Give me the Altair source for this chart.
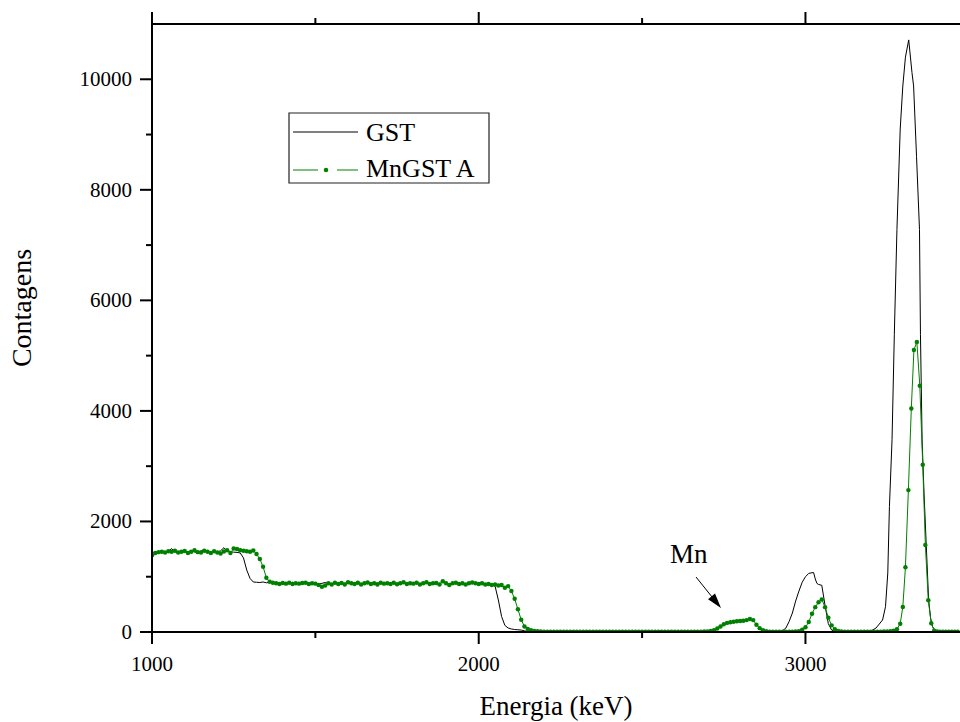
import altair as alt
import pandas as pd

# ---------------- data ----------------
energia_gst = [
    1000, 1010, 1020, 1030, 1040, 1050, 1060, 1070, 1080, 1090,
    1100, 1110, 1120, 1130, 1140, 1150, 1160, 1170, 1180, 1190,
    1200, 1210, 1220, 1230, 1240, 1250, 1260, 1270, 1280, 1290,
    1300, 1310, 1320, 1330, 1340, 1350, 1360, 1370, 1380, 1390,
    1400, 1410, 1420, 1430, 1440, 1450, 1460, 1470, 1480, 1490,
    1500, 1510, 1520, 1530, 1540, 1550, 1560, 1570, 1580, 1590,
    1600, 1610, 1620, 1630, 1640, 1650, 1660, 1670, 1680, 1690,
    1700, 1710, 1720, 1730, 1740, 1750, 1760, 1770, 1780, 1790,
    1800, 1810, 1820, 1830, 1840, 1850, 1860, 1870, 1880, 1890,
    1900, 1910, 1920, 1930, 1940, 1950, 1960, 1970, 1980, 1990,
    2000, 2010, 2020, 2030, 2040, 2050, 2060, 2070, 2080, 2090,
    2100, 2110, 2120, 2130, 2140, 2150, 2160, 2170, 2180, 2190,
    2200, 2300, 2400, 2500, 2600, 2700, 2800,
    2900, 2910, 2920, 2930, 2940, 2950, 2960, 2970, 2980, 2990,
    3000, 3010, 3020, 3025, 3030, 3035, 3040, 3050, 3060, 3070, 3080, 3090,
    3100, 3110, 3120, 3130, 3140, 3150, 3160, 3170, 3180, 3190,
    3200, 3216, 3236, 3245, 3252, 3257, 3265, 3272, 3280, 3290,
    3298, 3306, 3316, 3326, 3331, 3340, 3349, 3352, 3357, 3363,
    3369, 3377, 3383, 3389, 3400, 3420, 3440, 3460, 3470,
]
contagens_gst = [
    1420, 1440, 1450, 1445, 1455, 1460, 1510, 1450, 1455, 1440,
    1460, 1445, 1470, 1450, 1440, 1465, 1485, 1450, 1440, 1455,
    1450, 1470, 1525, 1460, 1450, 1445, 1440, 1430, 1340, 1120,
    970, 905, 900, 895, 905, 890, 900, 885, 895, 890,
    880, 895, 885, 900, 875, 890, 880, 895, 870, 885,
    890, 870, 880, 895, 880, 870, 890, 875, 885, 880,
    895, 880, 875, 890, 870, 885, 900, 880, 875, 890,
    880, 885, 870, 890, 880, 875, 895, 880, 870, 885,
    890, 880, 870, 885, 900, 875, 880, 890, 870, 905,
    880, 870, 885, 890, 875, 880, 870, 885, 895, 880,
    875, 885, 870, 880, 860, 830, 580, 280, 120, 72,
    55, 45, 40, 35, 22, 9, 4, 2, 2, 2,
    2, 2, 2, 2, 2, 2, 2,
    2, 4, 10, 25, 70, 190, 344, 560, 740, 900,
    1000, 1060, 1072, 1075, 960, 880, 860, 845, 480, 150, 36, 10,
    4, 3, 3, 3, 3, 3, 4, 5, 8, 12,
    18, 72, 217, 458, 1069, 2270, 3478, 5380, 7283, 9100,
    9879, 10400, 10712, 10121, 9879, 8600, 7283, 5380, 3478, 2500,
    1667, 580, 250, 96, 5, 2, 2, 2, 2,
]

energia_mn = [
    1000, 1010, 1020, 1030, 1040, 1050, 1060, 1070, 1080, 1090,
    1100, 1110, 1120, 1130, 1140, 1150, 1160, 1170, 1180, 1190,
    1200, 1210, 1220, 1230, 1240, 1250, 1260, 1270, 1280, 1290,
    1300, 1310, 1320, 1330, 1340, 1350, 1360, 1370, 1380, 1390,
    1400, 1410, 1420, 1430, 1440, 1450, 1460, 1470, 1480, 1490,
    1500, 1510, 1520, 1530, 1540, 1550, 1560, 1570, 1580, 1590,
    1600, 1610, 1620, 1630, 1640, 1650, 1660, 1670, 1680, 1690,
    1700, 1710, 1720, 1730, 1740, 1750, 1760, 1770, 1780, 1790,
    1800, 1810, 1820, 1830, 1840, 1850, 1860, 1870, 1880, 1890,
    1900, 1910, 1920, 1930, 1940, 1950, 1960, 1970, 1980, 1990,
    2000, 2010, 2020, 2030, 2040, 2050, 2060, 2070, 2080, 2090,
    2100, 2110, 2120, 2130, 2140, 2150, 2160, 2170, 2180, 2190,
    2200, 2210, 2220, 2230, 2240, 2250, 2260, 2270, 2280, 2290,
    2300, 2310, 2320, 2330, 2340, 2350, 2360, 2370, 2380, 2390,
    2400, 2410, 2420, 2430, 2440, 2450, 2460, 2470, 2480, 2490,
    2500, 2510, 2520, 2530, 2540, 2550, 2560, 2570, 2580, 2590,
    2600, 2610, 2620, 2630, 2640, 2650, 2660, 2670, 2680, 2690,
    2700, 2710, 2720, 2730, 2740, 2750, 2760, 2770, 2780, 2790,
    2800, 2810, 2820, 2830, 2840, 2850, 2860, 2870, 2880, 2890,
    2900, 2910, 2920, 2930, 2940, 2950, 2960, 2970, 2980, 2990,
    3000, 3010, 3020, 3030, 3040, 3050, 3060, 3070, 3080, 3090,
    3100, 3110, 3120, 3130, 3140, 3150, 3160, 3170, 3180, 3190,
    3200, 3210, 3220, 3230, 3240, 3250, 3260, 3270,
    3280, 3290, 3298, 3306, 3315, 3324, 3332, 3341, 3350, 3359,
    3367, 3376, 3385, 3394, 3403, 3412, 3421, 3430, 3439, 3448, 3457, 3466,
]
contagens_mn = [
    1390, 1430, 1445, 1450, 1440, 1460, 1450, 1470, 1440, 1450,
    1465, 1430, 1450, 1480, 1445, 1440, 1470, 1450, 1430, 1460,
    1440, 1420, 1455, 1480, 1430, 1510, 1500, 1480, 1470, 1460,
    1450, 1475, 1410, 1320, 1180, 980, 910, 890, 880, 870,
    885, 875, 890, 870, 880, 875, 885, 890, 870, 880,
    875, 850, 820, 840, 880, 860, 890, 870, 885, 860,
    900, 880, 870, 890, 860, 880, 895, 870, 880, 860,
    890, 875, 880, 870, 890, 865, 880, 900, 870, 880,
    875, 890, 860, 880, 900, 870, 880, 885, 860, 920,
    880, 850, 880, 890, 870, 880, 860, 880, 895, 880,
    870, 880, 860, 870, 850, 860, 840, 850, 800, 830,
    740, 600, 410, 220, 100, 55, 30, 20, 12, 8,
    6, 5, 5, 4, 5, 4, 4, 5, 4, 4,
    4, 5, 4, 4, 3, 4, 5, 4, 4, 3,
    4, 4, 5, 4, 3, 4, 4, 5, 4, 4,
    3, 4, 4, 5, 4, 4, 3, 4, 5, 4,
    4, 5, 4, 4, 5, 4, 6, 5, 6, 8,
    10, 18, 30, 65, 100, 140, 165, 175, 185, 195,
    200, 205, 215, 235, 215, 130, 70, 30, 12, 6,
    5, 4, 4, 5, 4, 5, 6, 8, 15, 40,
    85, 180, 330, 450, 540, 590, 450, 260, 120, 50,
    20, 10, 6, 5, 4, 4, 4, 5, 4, 4,
    4, 5, 5, 6, 8, 10, 15, 22,
    49, 150, 453, 1172, 2567, 4045, 5103, 5248, 4457, 3025,
    1576, 574, 157, 24, 8, 5, 4, 4, 4, 4, 4, 4,
]

x_major = [1000, 2000, 3000]
x_minor = [1500, 2500]
y_major = [0, 2000, 4000, 6000, 8000, 10000]
y_minor = [1000, 3000, 5000, 7000, 9000]
x_title = "Energia (keV)"
y_title = "Contagens"
legend_labels = ["GST", "MnGST A"]
annot_label = "Mn"
annot_text_pos = {"x": [2643], "y": [1248]}
annot_arrow = {"x0": [2665], "y0": [995], "x1": [2727], "y1": [539]}

# ---------------- layout ----------------
W, H = 808, 608
FONT = "Liberation Serif"
GREEN = "#008000"

xscale = alt.Scale(domain=[1000, 3473], nice=False, zero=False)
yscale = alt.Scale(domain=[0, 11000], nice=False, zero=False)

df_gst = pd.DataFrame({"E": energia_gst, "C": contagens_gst})
df_mn = pd.DataFrame({"E": energia_mn, "C": contagens_mn})
one = pd.DataFrame({"d": [0]})
df_xmajor = pd.DataFrame({"v": x_major, "lab": [str(v) for v in x_major]})
df_xminor = pd.DataFrame({"v": x_minor})
df_ymajor = pd.DataFrame({"v": y_major, "lab": [str(v) for v in y_major]})
df_yminor = pd.DataFrame({"v": y_minor})

X = lambda f: alt.X(f, scale=xscale, axis=None)
Y = lambda f: alt.Y(f, scale=yscale, axis=None)

# ---------------- data marks ----------------
gst_line = alt.Chart(df_gst).mark_line(color="black", strokeWidth=1, clip=True).encode(
    x=X("E:Q"), y=Y("C:Q")
)
mn_line = alt.Chart(df_mn).mark_line(color=GREEN, strokeWidth=1, clip=True).encode(
    x=X("E:Q"), y=Y("C:Q")
)
mn_pts = alt.Chart(df_mn).mark_circle(color=GREEN, size=20, opacity=1, clip=True).encode(
    x=X("E:Q"), y=Y("C:Q")
)

# ---------------- axes (frame lines, ticks, labels, titles) ----------------
def rule(data, **enc):
    return alt.Chart(data).mark_rule(color="black", strokeWidth=2).encode(**enc)

left_line = rule(one, x=alt.value(0), y=alt.value(0), y2=alt.value(H))
bottom_line = rule(one, x=alt.value(0), x2=alt.value(W), y=alt.value(H))
top_line = rule(one, x=alt.value(0), x2=alt.value(W), y=alt.value(0))
major_bottom = rule(df_xmajor, x=X("v:Q"), y=alt.value(H), y2=alt.value(H + 12))
minor_bottom = rule(df_xminor, x=X("v:Q"), y=alt.value(H), y2=alt.value(H + 6))
major_top = rule(df_xmajor, x=X("v:Q"), y=alt.value(0), y2=alt.value(-12))
minor_top = rule(df_xminor, x=X("v:Q"), y=alt.value(0), y2=alt.value(-6))
major_left = rule(df_ymajor, y=Y("v:Q"), x=alt.value(0), x2=alt.value(-12))
minor_left = rule(df_yminor, y=Y("v:Q"), x=alt.value(0), x2=alt.value(-6))

x_labels = alt.Chart(df_xmajor).mark_text(
    font=FONT, fontSize=21, align="center", baseline="alphabetic", color="black"
).encode(x=X("v:Q"), y=alt.value(H + 39), text="lab:N")
y_labels = alt.Chart(df_ymajor).mark_text(
    font=FONT, fontSize=21, align="right", baseline="alphabetic", color="black", dy=7
).encode(y=Y("v:Q"), x=alt.value(-20), text="lab:N")

x_title_mark = alt.Chart(one).mark_text(
    font=FONT, fontSize=27, align="center", baseline="alphabetic", color="black"
).encode(x=alt.value(W / 2), y=alt.value(H + 83), text=alt.value(x_title))
y_title_mark = alt.Chart(one).mark_text(
    font=FONT, fontSize=28, align="center", baseline="alphabetic", color="black",
    angle=270,
).encode(x=alt.value(-121), y=alt.value(284), text=alt.value(y_title))

# ---------------- legend box (drawn by hand) ----------------
leg_box = alt.Chart(one).mark_rect(fill="white", stroke="#222222", strokeWidth=1.2).encode(
    x=alt.value(137), x2=alt.value(337), y=alt.value(89), y2=alt.value(159)
)
leg_gst_line = alt.Chart(one).mark_rule(color="black", strokeWidth=1).encode(
    x=alt.value(141), x2=alt.value(206), y=alt.value(108)
)
leg_mn_dash1 = alt.Chart(one).mark_rule(color=GREEN, strokeWidth=1).encode(
    x=alt.value(141), x2=alt.value(166), y=alt.value(146)
)
leg_mn_dash2 = alt.Chart(one).mark_rule(color=GREEN, strokeWidth=1).encode(
    x=alt.value(185), x2=alt.value(206), y=alt.value(146)
)
leg_mn_dot = alt.Chart(one).mark_circle(color=GREEN, size=20, opacity=1).encode(
    x=alt.value(174), y=alt.value(146)
)
leg_txt1 = alt.Chart(one).mark_text(
    font=FONT, fontSize=26, align="left", baseline="alphabetic", color="black"
).encode(x=alt.value(214), y=alt.value(117), text=alt.value(legend_labels[0]))
leg_txt2 = alt.Chart(one).mark_text(
    font=FONT, fontSize=26, align="left", baseline="alphabetic", color="black"
).encode(x=alt.value(214), y=alt.value(153), text=alt.value(legend_labels[1]))

# ---------------- annotation "Mn" with arrow ----------------
df_annot = pd.DataFrame(annot_text_pos)
df_arrow = pd.DataFrame(annot_arrow)
annot_txt = alt.Chart(df_annot).mark_text(
    font=FONT, fontSize=27, align="center", baseline="alphabetic", color="black"
).encode(x=X("x:Q"), y=Y("y:Q"), text=alt.value(annot_label))
arrow_line = alt.Chart(df_arrow).mark_rule(color="black", strokeWidth=1).encode(
    x=X("x0:Q"), y=Y("y0:Q"), x2="x1:Q", y2="y1:Q"
)
arrow_head = alt.Chart(df_arrow).mark_point(
    shape="M0,1L-0.6,-1L0.6,-1Z", filled=True, color="black", opacity=1,
    size=225, angle=321,
).encode(x=X("x1:Q"), y=Y("y1:Q"))

chart = (
    alt.layer(
        gst_line, mn_line, mn_pts,
        left_line, bottom_line, top_line,
        major_bottom, minor_bottom, major_top, minor_top, major_left, minor_left,
        x_labels, y_labels, x_title_mark, y_title_mark,
        leg_box, leg_gst_line, leg_mn_dash1, leg_mn_dash2, leg_mn_dot,
        leg_txt1, leg_txt2,
        annot_txt, arrow_line, arrow_head,
    )
    .properties(
        width=W, height=H,
        autosize=alt.AutoSizeParams(type="none"),
        padding={"left": 152, "top": 24, "right": 0, "bottom": 90},
        background="white",
    )
    .configure_view(stroke=None)
)

chart.save("out.html", embed_options={"renderer": "svg", "actions": False})
